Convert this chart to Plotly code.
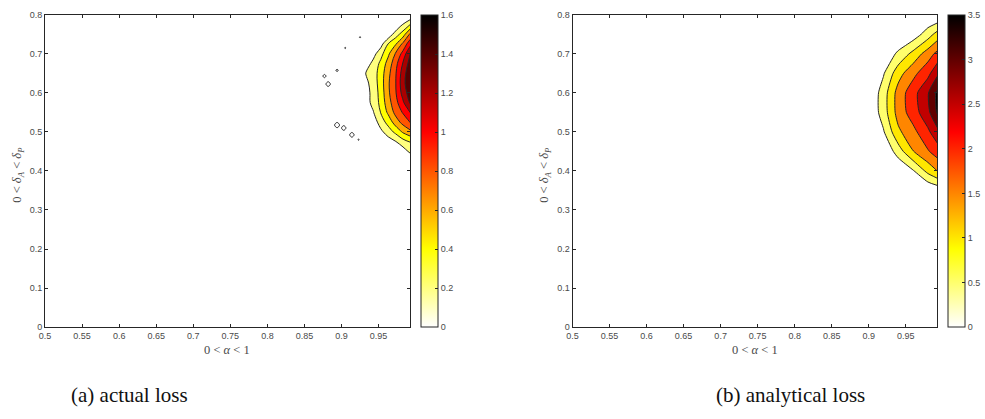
import plotly.graph_objects as go

# ---- actual loss: sampled grid (alpha columns, delta rows) ----
actual_alpha = [0.923, 0.933, 0.943, 0.953, 0.963, 0.973, 0.983, 0.993]
actual_delta = [0.400, 0.425, 0.450, 0.475, 0.500, 0.525, 0.550, 0.575, 0.600,
                0.625, 0.650, 0.675, 0.700, 0.725, 0.750, 0.775, 0.800]
actual_loss = [
    [0, 0, 0, 0, 0, 0, 0, 0],
    [0, 0, 0, 0, 0, 0, 0, 0],
    [0, 0, 0, 0, 0, 0, 0.10, 0.25],
    [0, 0, 0, 0, 0.10, 0.19, 0.32, 0.41],
    [0, 0, 0, 0.15, 0.30, 0.45, 0.63, 0.75],
    [0, 0, 0.08, 0.30, 0.47, 0.70, 0.87, 1.02],
    [0, 0.08, 0.19, 0.41, 0.64, 0.86, 1.02, 1.21],
    [0, 0.12, 0.26, 0.46, 0.72, 0.93, 1.17, 1.43],
    [0, 0.12, 0.27, 0.48, 0.76, 0.98, 1.28, 1.52],
    [0, 0.15, 0.29, 0.50, 0.77, 0.99, 1.33, 1.58],
    [0, 0.21, 0.30, 0.50, 0.74, 0.98, 1.30, 1.57],
    [0, 0.10, 0.26, 0.45, 0.68, 0.93, 1.22, 1.50],
    [0, 0, 0.13, 0.33, 0.56, 0.82, 1.07, 1.42],
    [0, 0, 0, 0.12, 0.41, 0.58, 0.85, 1.15],
    [0, 0, 0, 0, 0.05, 0.30, 0.50, 0.85],
    [0, 0, 0, 0, 0, 0, 0.21, 0.41],
    [0, 0, 0, 0, 0, 0, 0, 0],
]

# isolated noisy peaks of the actual loss
spot_alpha = [0.925, 0.905, 0.894, 0.877, 0.882, 0.894, 0.903, 0.914, 0.923]
spot_delta = [0.7425, 0.715, 0.6575, 0.643, 0.6225, 0.5175, 0.510, 0.4925, 0.480]
spot_loss = [0.22, 0.22, 0.24, 0.26, 0.30, 0.32, 0.30, 0.30, 0.22]

# ---- analytical loss: sampled grid ----
analytical_alpha = [0.88, 0.90, 0.92, 0.94, 0.96, 0.98, 0.993]
analytical_delta = [0.30, 0.35, 0.40, 0.45, 0.50, 0.55, 0.60, 0.65, 0.70, 0.75, 0.80]
analytical_loss = [
    [0, 0, 0, 0, 0, 0, 0],
    [0, 0, 0, 0, 0, 0, 0.15],
    [0, 0, 0, 0, 0.45, 1.15, 1.52],
    [0, 0, 0, 0.75, 1.48, 1.95, 2.25],
    [0, 0, 0.45, 1.40, 1.85, 2.40, 2.85],
    [0, 0, 0.75, 1.70, 2.25, 2.85, 3.58],
    [0, 0, 0.75, 1.70, 2.30, 2.95, 3.62],
    [0, 0, 0.45, 1.30, 1.85, 2.35, 2.90],
    [0, 0, 0.10, 0.60, 1.15, 1.75, 2.15],
    [0, 0, 0, 0, 0.20, 0.75, 1.20],
    [0, 0, 0, 0, 0, 0, 0],
]

alpha_ticks = [0.5, 0.55, 0.6, 0.65, 0.7, 0.75, 0.8, 0.85, 0.9, 0.95]
alpha_ticktext = ["0.5", "0.55", "0.6", "0.65", "0.7", "0.75", "0.8", "0.85", "0.9", "0.95"]
delta_ticks = [0, 0.1, 0.2, 0.3, 0.4, 0.5, 0.6, 0.7, 0.8]
delta_ticktext = ["0", "0.1", "0.2", "0.3", "0.4", "0.5", "0.6", "0.7", "0.8"]
actual_cbar_ticks = [0, 0.2, 0.4, 0.6, 0.8, 1.0, 1.2, 1.4, 1.6]
actual_cbar_text = ["0", "0.2", "0.4", "0.6", "0.8", "1", "1.2", "1.4", "1.6"]
analytical_cbar_ticks = [0, 0.5, 1.0, 1.5, 2.0, 2.5, 3.0, 3.5]
analytical_cbar_text = ["0", "0.5", "1", "1.5", "2", "2.5", "3", "3.5"]

# flipped "hot" colormap: white -> yellow -> red -> black
HOT_R = [[0.0, "rgb(255,255,255)"], [0.25, "rgb(255,255,0)"],
         [0.625, "rgb(255,0,0)"], [1.0, "rgb(0,0,0)"]]

W, H = 985, 419
LINE = "#262626"
TICK_FONT = dict(family="Liberation Sans, Arial, sans-serif", size=9, color="#4a4a4a")
SERIF = "Liberation Serif, DejaVu Serif, serif"


def px_x(p):
    return p / W


def px_y(p):
    return (H - p) / H


ax_bottom, ax_top = px_y(330), px_y(10)
left_dom = [px_x(39.5), px_x(409)]
right_dom = [px_x(573), px_x(942)]

fig = go.Figure()

# main filled contours
fig.add_trace(go.Contour(
    x=actual_alpha, y=actual_delta, z=actual_loss,
    colorscale=HOT_R, showscale=False,
    contours=dict(coloring="fill", start=0.2, end=1.6, size=0.2),
    line=dict(color=LINE, width=1, smoothing=1.0),
    xaxis="x", yaxis="y", hoverinfo="skip",
))

# small isolated contour loops
dx, dy = 0.009, 0.018
for a, d, v in zip(spot_alpha, spot_delta, spot_loss):
    fig.add_trace(go.Contour(
        x=[a - dx, a, a + dx], y=[d - dy, d, d + dy],
        z=[[0, 0, 0], [0, v, 0], [0, 0, 0]],
        showscale=False,
        contours=dict(coloring="none", start=0.2, end=0.2, size=0.2),
        line=dict(color=LINE, width=1, smoothing=1.0),
        xaxis="x", yaxis="y", hoverinfo="skip",
    ))

fig.add_trace(go.Contour(
    x=analytical_alpha, y=analytical_delta, z=analytical_loss,
    colorscale=HOT_R, showscale=False,
    contours=dict(coloring="fill", start=0.5, end=3.5, size=0.5),
    line=dict(color=LINE, width=1, smoothing=0.6),
    xaxis="x2", yaxis="y2", hoverinfo="skip",
))


def cbar_trace(xaxis, yaxis, cmax, tickvals, ticktext, xpos):
    return go.Scatter(
        x=[None], y=[None], mode="markers", xaxis=xaxis, yaxis=yaxis,
        showlegend=False, hoverinfo="skip",
        marker=dict(color=[0], cmin=0, cmax=cmax, colorscale=HOT_R, showscale=True,
                    colorbar=dict(
                        x=xpos, xanchor="left", y=ax_bottom, yanchor="bottom",
                        len=ax_top - ax_bottom, lenmode="fraction",
                        thickness=17, thicknessmode="pixels", xpad=0, ypad=0,
                        outlinewidth=1, outlinecolor=LINE,
                        tickvals=tickvals, ticktext=ticktext,
                        ticks="inside", ticklen=3, tickcolor=LINE,
                        tickfont=TICK_FONT,
                    )),
    )


fig.add_trace(cbar_trace("x", "y", 1.6, actual_cbar_ticks, actual_cbar_text, px_x(420)))
fig.add_trace(cbar_trace("x2", "y2", 3.5, analytical_cbar_ticks, analytical_cbar_text, px_x(953)))

axis_common = dict(showline=True, linecolor=LINE, linewidth=1, mirror="ticks",
                   ticks="inside", ticklen=3, tickcolor=LINE, tickfont=TICK_FONT,
                   showgrid=False, zeroline=False)

fig.update_layout(
    width=W, height=H, margin=dict(l=0, r=0, t=0, b=0),
    paper_bgcolor="white", plot_bgcolor="white", showlegend=False,
    xaxis=dict(domain=left_dom, range=[0.5, 0.993], tickvals=alpha_ticks,
               ticktext=alpha_ticktext, anchor="y", **axis_common),
    yaxis=dict(domain=[ax_bottom, ax_top], range=[0, 0.8], tickvals=delta_ticks,
               ticktext=delta_ticktext, anchor="x", **axis_common),
    xaxis2=dict(domain=right_dom, range=[0.5, 0.993], tickvals=alpha_ticks,
                ticktext=alpha_ticktext, anchor="y2", **axis_common),
    yaxis2=dict(domain=[ax_bottom, ax_top], range=[0, 0.8], tickvals=delta_ticks,
                ticktext=delta_ticktext, anchor="x2", **axis_common),
)

label_font = dict(family=SERIF, size=12.5, color="#4a4a4a")
xlabel = "0 < <i>α</i> < 1"
ylabel = "0 < <i>δ</i><sub><i>A</i></sub> < <i>δ</i><sub><i>P</i></sub>"
annotations = [
    dict(x=px_x(224), y=px_y(353), text=xlabel),
    dict(x=px_x(757.5), y=px_y(353), text=xlabel),
    dict(x=px_x(12), y=px_y(174), text=ylabel, textangle=-90),
    dict(x=px_x(545), y=px_y(174), text=ylabel, textangle=-90),
]
for a in annotations:
    fig.add_annotation(xref="paper", yref="paper", showarrow=False,
                       xanchor="center", yanchor="middle", font=label_font, **a)

cap_font = dict(family=SERIF, size=21, color="#111111")
fig.add_annotation(x=px_x(125), y=px_y(400), xref="paper", yref="paper", showarrow=False,
                   text="(a) actual loss", font=cap_font, xanchor="center", yanchor="middle")
fig.add_annotation(x=px_x(793), y=px_y(400), xref="paper", yref="paper", showarrow=False,
                   text="(b) analytical loss", font=cap_font, xanchor="center", yanchor="middle")

fig.write_html("out.html")
